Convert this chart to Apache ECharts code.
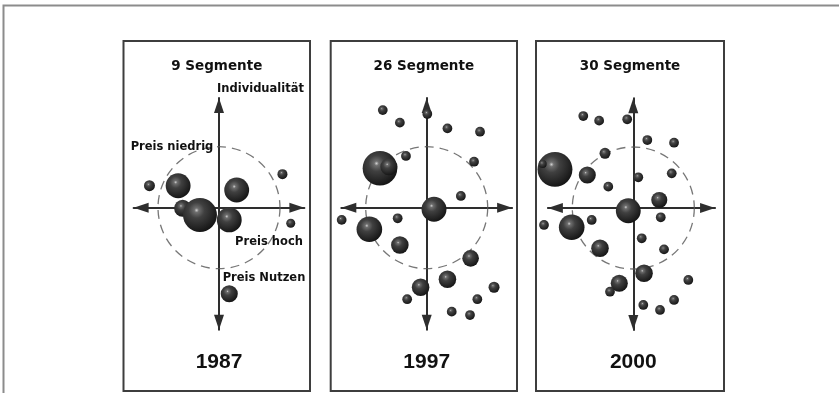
<!DOCTYPE html>
<html>
<head>
<meta charset="utf-8">
<script src="https://cdn.jsdelivr.net/npm/echarts@6/dist/echarts.min.js"></script>
<style>
  html, body { margin: 0; padding: 0; background: #fff; }
  #chart { width: 839px; height: 393px; }
</style>
</head>
<body>
<div id="chart"></div>
<script>
// 各年份的细分市场：[x, y, 半径]，单位以坐标轴交点为原点
const segments1987 = [
  [-5.7, 1.8, 0.45], [-3.35, 1.8, 1.02], [1.45, 1.45, 1.02], [5.2, 2.75, 0.41],
  [-2.98, -0.05, 0.7], [-1.56, -0.6, 1.39], [0.84, -1.0, 1.02], [5.88, -1.28, 0.37],
  [0.84, -7.05, 0.7]
];
const segments1997 = [
  [-3.6, 8.0, 0.4], [-2.2, 6.97, 0.4], [0.05, 7.68, 0.4], [1.7, 6.5, 0.4], [4.37, 6.23, 0.4],
  [-1.7, 4.24, 0.4], [-3.83, 3.23, 1.42], [-3.1, 3.36, 0.7], [3.88, 3.77, 0.4],
  [2.8, 0.96, 0.4], [0.6, -0.13, 1.02], [-6.97, -1.0, 0.4], [-4.7, -1.77, 1.05],
  [-2.38, -0.87, 0.4], [-2.2, -3.06, 0.72], [3.6, -4.15, 0.68], [1.7, -5.87, 0.72],
  [-0.5, -6.52, 0.72], [5.52, -6.52, 0.45], [-1.6, -7.5, 0.4], [4.15, -7.5, 0.4],
  [2.05, -8.52, 0.4], [3.55, -8.8, 0.4]
];
const segments2000 = [
  [-4.1, 7.54, 0.4], [-2.8, 7.16, 0.4], [-0.5, 7.27, 0.4], [1.15, 5.57, 0.4], [3.34, 5.35, 0.4],
  [-2.32, 4.48, 0.45], [-6.42, 3.17, 1.43], [-7.43, 3.61, 0.33], [-3.77, 2.7, 0.7],
  [3.15, 2.84, 0.4], [0.41, 2.52, 0.4], [-2.05, 1.75, 0.4], [2.13, 0.66, 0.66],
  [-0.41, -0.22, 1.02], [-7.32, -1.39, 0.4], [-5.05, -1.58, 1.05], [-3.41, -0.98, 0.4],
  [2.25, -0.76, 0.4], [0.69, -2.48, 0.4], [-2.73, -3.3, 0.72], [2.52, -3.39, 0.4],
  [0.88, -5.35, 0.72], [-1.15, -6.17, 0.7], [-1.91, -6.86, 0.4], [4.51, -5.9, 0.4],
  [0.82, -7.95, 0.4], [2.19, -8.36, 0.4], [3.34, -7.54, 0.4]
];
const years = ["1987", "1997", "2000"];
const segmentTitles = ["9 Segmente", "26 Segmente", "30 Segmente"];
const axisTexts = ["Individualität", "Preis niedrig", "Preis hoch", "Preis Nutzen"];
const CIRCLE_R = 5;

const UNIT = 12.2; // 每单位像素
const panels = [
  { data: segments1987, cx: 219, cy: 207.7, xMin: -7, xMax: 7, box: [123.5, 41, 186.5, 350] },
  { data: segments1997, cx: 426.7, cy: 207.7, xMin: -7, xMax: 7, box: [330.7, 41, 186.3, 350] },
  { data: segments2000, cx: 633.3, cy: 208, xMin: -7, xMax: 6.7, box: [536, 41, 188, 350] }
];
const Y_MIN = -10, Y_MAX = 9;

const AXIS_COLOR = "#2e2e2e";
const TEXT_COLOR = "#111";
const sphere = {
  type: "radial", x: 0.4, y: 0.36, r: 0.66,
  colorStops: [
    { offset: 0, color: "#d0d0d0" },
    { offset: 0.1, color: "#6e6e6e" },
    { offset: 0.35, color: "#404040" },
    { offset: 0.8, color: "#222" },
    { offset: 1, color: "#141414" }
  ]
};

const grid = [], xAxis = [], yAxis = [], series = [], graphic = [];

function axisLine() {
  return {
    show: true, onZero: true,
    symbol: ["triangle", "triangle"], symbolSize: [10, 15], symbolOffset: [7.5, -7.5],
    lineStyle: { color: AXIS_COLOR, width: 2 }
  };
}

// 外框
graphic.push({
  type: "rect", shape: { x: 3.5, y: 5.5, width: 900, height: 500 },
  style: { fill: "none", stroke: "#8c8c8c", lineWidth: 2 }, silent: true
});

panels.forEach((p, i) => {
  grid.push({
    left: p.cx + p.xMin * UNIT, top: p.cy - Y_MAX * UNIT,
    width: (p.xMax - p.xMin) * UNIT, height: (Y_MAX - Y_MIN) * UNIT
  });
  xAxis.push({
    gridIndex: i, type: "value", min: p.xMin, max: p.xMax,
    axisLine: axisLine(), axisTick: { show: false }, axisLabel: { show: false }, splitLine: { show: false }
  });
  yAxis.push({
    gridIndex: i, type: "value", min: Y_MIN, max: Y_MAX,
    axisLine: axisLine(), axisTick: { show: false }, axisLabel: { show: false }, splitLine: { show: false }
  });
  series.push({
    type: "scatter", xAxisIndex: i, yAxisIndex: i, silent: true, clip: false, z: 1,
    data: [[0, 0, CIRCLE_R]],
    symbolSize: (v) => v[2] * 2 * UNIT,
    itemStyle: { color: "rgba(0,0,0,0)", borderColor: "#555", borderWidth: 1.3, borderType: [9, 6] }
  });
  series.push({
    type: "scatter", xAxisIndex: i, yAxisIndex: i, silent: true, clip: false, z: 3,
    data: p.data,
    symbolSize: (v) => v[2] * 2 * UNIT,
    itemStyle: { color: sphere, opacity: 1 }
  });

  const [bx, by, bw, bh] = p.box;
  graphic.push({
    type: "rect", shape: { x: bx, y: by, width: bw, height: bh },
    style: { fill: "none", stroke: "#3e3e3e", lineWidth: 2 }, silent: true
  });
  graphic.push({
    type: "text", x: bx + bw / 2, y: 66,
    style: { text: segmentTitles[i], align: "center", verticalAlign: "middle",
      font: "bold 13.5px 'DejaVu Sans'", fill: TEXT_COLOR }
  });
  graphic.push({
    type: "text", x: p.cx, y: 362,
    style: { text: years[i], align: "center", verticalAlign: "middle",
      font: "bold 21px 'Liberation Sans Narrow', 'Liberation Sans'", fill: TEXT_COLOR }
  });
});

// 第一幅图的坐标轴说明
const labelFont = "bold 11.5px 'DejaVu Sans'";
[[axisTexts[0], 260.5, 89], [axisTexts[1], 172, 147], [axisTexts[2], 269, 242], [axisTexts[3], 264, 278]]
  .forEach(([t, x, y]) => {
    graphic.push({
      type: "text", x: x, y: y, z: 10,
      style: { text: t, align: "center", verticalAlign: "middle", font: labelFont, fill: TEXT_COLOR }
    });
  });

const chart = echarts.init(document.getElementById("chart"), null, { renderer: "canvas" });
chart.setOption({
  animation: false,
  backgroundColor: "#fff",
  grid, xAxis, yAxis, series, graphic
});
</script>
</body>
</html>
